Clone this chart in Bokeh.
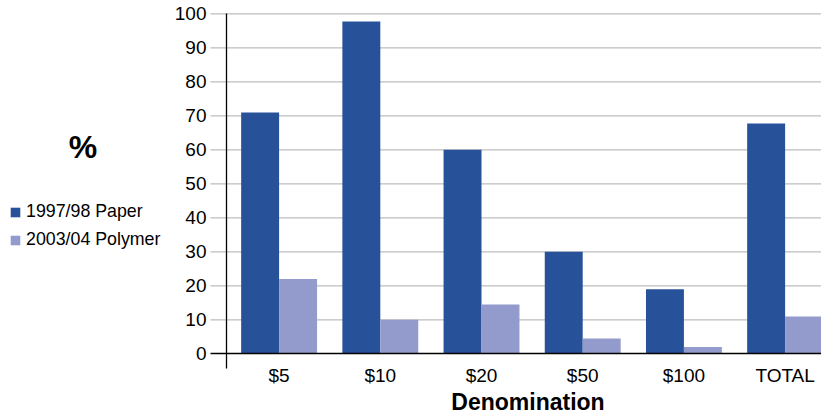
from bokeh.plotting import figure
from bokeh.models import (Range1d, FixedTicker, Label, Legend, LegendItem,
                          ColumnDataSource)
from bokeh.embed import file_html
from bokeh.resources import INLINE

# Share of banknotes by denomination, paper issue vs polymer issue (%)
denominations = ["$5", "$10", "$20", "$50", "$100", "TOTAL"]
paper_1997_98 = [71, 97.7, 60, 30, 19, 67.7]
polymer_2003_04 = [22, 10, 14.5, 4.5, 2, 11]
y_ticks = [0, 10, 20, 30, 40, 50, 60, 70, 80, 90, 100]
series_names = ["1997/98 Paper", "2003/04 Polymer"]

PAPER = "#27529a"
POLYMER = "#929bcb"
GRID = "#bdbdbd"
FONT = "Liberation Sans"
W, H = 821, 414

# The frame fills the whole canvas; the axes sit at fixed data positions
# so that the unit label and the legend can live to the left of the y axis.
X_LO, X_HI = -2.753, 5.3595        # 101.2 px per category
Y_LO, Y_HI = -17.85, 103.91        # 3.4 px per percent
Y_AXIS_AT = -0.52                  # left edge of the plotting area
TICK_EXT = 16 / 101.2              # grid lines reach past the y axis
AXIS_FOOT = -4.2                   # y axis runs a little below zero

idx = list(range(len(denominations)))
bar_w = 0.375
src = ColumnDataSource(dict(
    x_paper=[i - bar_w / 2 for i in idx],
    x_poly=[i + bar_w / 2 for i in idx],
    paper=paper_1997_98,
    poly=polymer_2003_04,
))

p = figure(width=W, height=H, output_backend="svg", toolbar_location=None,
           x_range=Range1d(X_LO, X_HI), y_range=Range1d(Y_LO, Y_HI),
           min_border=0)
p.outline_line_color = None
p.grid.visible = False

# horizontal grid lines, starting a little left of the y axis (outer ticks)
grid_y = y_ticks[1:]
grid_src = ColumnDataSource(dict(
    x0=[Y_AXIS_AT - TICK_EXT] * len(grid_y),
    x1=[X_HI] * len(grid_y),
    y=grid_y,
))
p.segment(x0="x0", y0="y", x1="x1", y1="y", source=grid_src,
          line_color=GRID, line_width=1.3, level="underlay")

r_paper = p.vbar(x="x_paper", top="paper", width=bar_w, source=src,
                 fill_color=PAPER, line_color=None)
r_poly = p.vbar(x="x_poly", top="poly", width=bar_w, source=src,
                fill_color=POLYMER, line_color=None)

# x axis along the zero line
xa = p.xaxis[0]
xa.fixed_location = 0
xa.bounds = (Y_AXIS_AT - TICK_EXT, X_HI)
xa.ticker = FixedTicker(ticks=idx)
xa.major_label_overrides = {i: d for i, d in zip(idx, denominations)}
xa.major_tick_out = 0
xa.major_tick_in = 0
xa.minor_tick_line_color = None
xa.axis_line_color = "black"
xa.axis_line_width = 1.3
xa.major_label_standoff = 11
xa.major_label_text_font = FONT
xa.major_label_text_font_size = "19px"
xa.major_label_text_color = "black"

# y axis at the left edge of the plotting area
ya = p.yaxis[0]
ya.fixed_location = Y_AXIS_AT
ya.bounds = (AXIS_FOOT, 100)
ya.ticker = FixedTicker(ticks=y_ticks)
ya.major_tick_out = 0
ya.major_tick_in = 0
ya.minor_tick_line_color = None
ya.axis_line_color = "black"
ya.axis_line_width = 1.3
ya.major_label_standoff = 20
ya.major_label_text_font = FONT
ya.major_label_text_font_size = "19px"
ya.major_label_text_color = "black"

# axis titles
p.add_layout(Label(x=2.459, y=-14.2, text="Denomination", text_font=FONT,
                   text_font_style="bold", text_font_size="23px",
                   text_align="center", text_baseline="middle",
                   text_color="black"))
p.add_layout(Label(x=-1.938, y=60.8, text="%", text_font=FONT,
                   text_font_style="bold", text_font_size="32px",
                   text_align="center", text_baseline="middle",
                   text_color="black"))

legend = Legend(items=[
    LegendItem(label=series_names[0], renderers=[r_paper]),
    LegendItem(label=series_names[1], renderers=[r_poly]),
], location=(9, H - 250))
legend.border_line_color = None
legend.background_fill_alpha = 0
legend.padding = 0
legend.margin = 0
legend.glyph_width = 12
legend.glyph_height = 12
legend.label_height = 12
legend.label_standoff = 5
legend.spacing = 7
legend.label_text_font = FONT
legend.label_text_font_size = "17.8px"
legend.label_text_color = "black"
p.add_layout(legend, "center")

open("out.html", "w").write(file_html(p, INLINE))
